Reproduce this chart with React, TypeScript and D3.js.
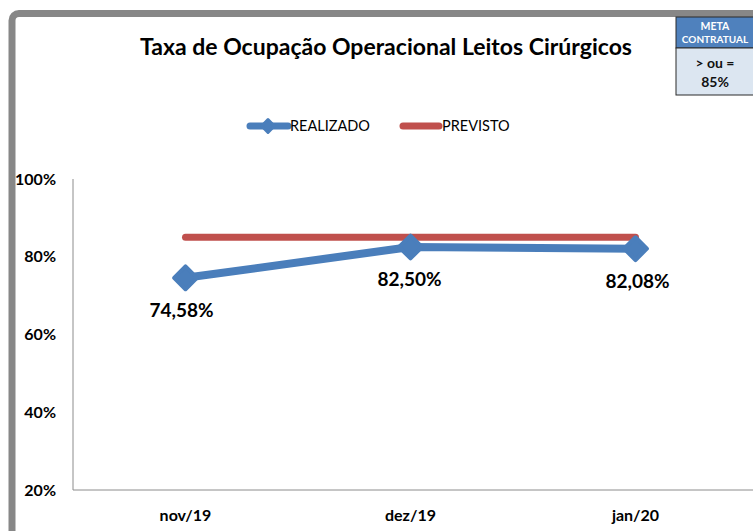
import React, { useEffect, useRef } from "react";
import * as d3 from "d3";

const months = ["nov/19", "dez/19", "jan/20"];
const realizado = [74.58, 82.5, 82.08];
const previsto = [85, 85, 85];
const yTicks = [20, 40, 60, 80, 100];
const labels = ["74,58%", "82,50%", "82,08%"];

const W = 753;
const H = 531;
const font = "Lato, 'Open Sans', sans-serif";
const BLUE = "#4a7ebb";
const RED = "#c0504d";

const App = () => {
  const ref = useRef<SVGSVGElement>(null);

  useEffect(() => {
    const svg = d3.select(ref.current);
    svg.selectAll("*").remove();

    // frame
    svg.append("rect").attr("width", W).attr("height", H).attr("fill", "#fff");
    svg
      .append("rect")
      .attr("x", 12)
      .attr("y", 13.5)
      .attr("width", W + 20)
      .attr("height", H + 20)
      .attr("rx", 7)
      .attr("fill", "#fff")
      .attr("stroke", "#878787")
      .attr("stroke-width", 7);

    const x = d3.scalePoint().domain(months).range([73, 748]).padding(0.5);
    const y = d3.scaleLinear().domain([20, 100]).range([490, 179]);

    // axes
    svg
      .append("line")
      .attr("x1", 73)
      .attr("x2", 73)
      .attr("y1", y(100))
      .attr("y2", y(20))
      .attr("stroke", "#8c8c8c");
    svg
      .append("line")
      .attr("x1", 73)
      .attr("x2", W)
      .attr("y1", y(20))
      .attr("y2", y(20))
      .attr("stroke", "#8c8c8c");

    svg
      .selectAll(".yt")
      .data(yTicks)
      .enter()
      .append("text")
      .attr("x", 56)
      .attr("y", (d) => y(d))
      .attr("dy", "0.35em")
      .attr("text-anchor", "end")
      .attr("font-family", font)
      .attr("font-weight", "bold")
      .attr("font-size", 16)
      .text((d) => d + "%");

    svg
      .selectAll(".xt")
      .data(months)
      .enter()
      .append("text")
      .attr("x", (d) => x(d)!)
      .attr("y", 521)
      .attr("text-anchor", "middle")
      .attr("font-family", font)
      .attr("font-weight", "bold")
      .attr("font-size", 16)
      .text((d) => d);

    // previsto line
    const line = d3
      .line<number>()
      .x((_, i) => x(months[i])!)
      .y((d) => y(d));

    svg
      .append("path")
      .attr("d", line(previsto))
      .attr("fill", "none")
      .attr("stroke", RED)
      .attr("stroke-width", 7)
      .attr("stroke-linecap", "round");

    svg
      .append("path")
      .attr("d", line(realizado))
      .attr("fill", "none")
      .attr("stroke", BLUE)
      .attr("stroke-width", 8)
      .attr("stroke-linejoin", "round")
      .attr("stroke-linecap", "round");

    const marker = d3.symbol().type(d3.symbolSquare).size(260);
    svg
      .selectAll(".pt")
      .data(realizado)
      .enter()
      .append("path")
      .attr("d", marker)
      .attr("transform", (d, i) => `translate(${x(months[i])},${y(d)}) rotate(45)`)
      .attr("fill", BLUE)
      .attr("stroke", BLUE)
      .attr("stroke-width", 4)
      .attr("stroke-linejoin", "round");

    svg
      .selectAll(".lbl")
      .data(realizado)
      .enter()
      .append("text")
      .attr("x", (_, i) => x(months[i])! - 4 + i * 3)
      .attr("y", (d) => y(d) + 39)
      .attr("text-anchor", "middle")
      .attr("font-family", font)
      .attr("font-weight", "bold")
      .attr("font-size", 19)
      .text((_, i) => labels[i]);

    // title
    svg
      .append("text")
      .attr("x", 386)
      .attr("y", 55)
      .attr("text-anchor", "middle")
      .attr("font-family", font)
      .attr("font-weight", "bold")
      .attr("font-size", 23)
      .text("Taxa de Ocupação Operacional Leitos Cirúrgicos");

    // legend
    const lg = svg.append("g");
    lg.append("line")
      .attr("x1", 250).attr("x2", 288).attr("y1", 126).attr("y2", 126)
      .attr("stroke", BLUE).attr("stroke-width", 7).attr("stroke-linecap", "round");
    lg.append("path")
      .attr("d", d3.symbol().type(d3.symbolSquare).size(80)())
      .attr("transform", "translate(268,126) rotate(45)")
      .attr("fill", BLUE).attr("stroke", BLUE).attr("stroke-width", 3).attr("stroke-linejoin", "round");
    lg.append("text")
      .attr("x", 290).attr("y", 126).attr("dy", "0.35em")
      .attr("font-family", font).attr("font-size", 14.5).text("REALIZADO");
    lg.append("line")
      .attr("x1", 403).attr("x2", 439).attr("y1", 126).attr("y2", 126)
      .attr("stroke", RED).attr("stroke-width", 7).attr("stroke-linecap", "round");
    lg.append("text")
      .attr("x", 442).attr("y", 126).attr("dy", "0.35em")
      .attr("font-family", font).attr("font-size", 14.5).text("PREVISTO");

    // meta box
    const mb = svg.append("g");
    mb.append("rect")
      .attr("x", 676).attr("y", 17).attr("width", 80).attr("height", 31)
      .attr("fill", "#4f81bd").attr("stroke", "#2b2b2b").attr("stroke-width", 1);
    mb.append("rect")
      .attr("x", 676).attr("y", 48).attr("width", 80).attr("height", 47)
      .attr("fill", "#dce6f1").attr("stroke", "#2b2b2b").attr("stroke-width", 1);
    mb.append("text")
      .attr("x", 715).attr("y", 30).attr("text-anchor", "middle")
      .attr("font-family", font).attr("font-weight", "bold").attr("font-size", 10.5)
      .attr("fill", "#fff").text("META");
    mb.append("text")
      .attr("x", 715).attr("y", 43).attr("text-anchor", "middle")
      .attr("font-family", font).attr("font-weight", "bold").attr("font-size", 10)
      .attr("fill", "#fff").text("CONTRATUAL");
    mb.append("text")
      .attr("x", 715).attr("y", 68).attr("text-anchor", "middle")
      .attr("font-family", font).attr("font-weight", "bold").attr("font-size", 14)
      .attr("fill", "#111").text("> ou =");
    mb.append("text")
      .attr("x", 715).attr("y", 87).attr("text-anchor", "middle")
      .attr("font-family", font).attr("font-weight", "bold").attr("font-size", 14)
      .attr("fill", "#111").text("85%");
  }, []);

  return (
    <svg
      ref={ref}
      width={W}
      height={H}
      style={{ position: "absolute", left: 0, top: 0 }}
    />
  );
};

export default App;
